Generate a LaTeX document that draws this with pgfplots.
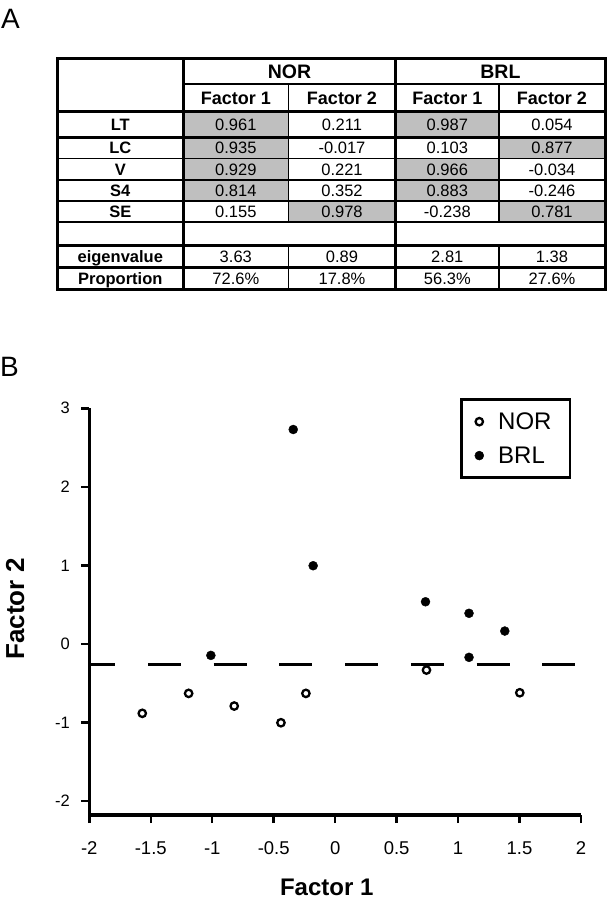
\documentclass[border=0pt]{standalone}
\usepackage{fontspec}
\setmainfont{Liberation Sans}
\usepackage{pgfplots}
\pgfplotsset{compat=1.18}

\newcommand{\fsz}[1]{\fontsize{#1bp}{#1bp}\selectfont}

\begin{document}
\begin{tikzpicture}
\useasboundingbox (0,0) rectangle (608bp,-900bp);

% panel letters
\node[anchor=base west, inner sep=0pt, font=\fsz{28}] at (1bp,-28.3bp) {A};
\node[anchor=base west, inner sep=0pt, font=\fsz{28}] at (0bp,-376.7bp) {B};

% ---- table (panel A), coordinates in px, y down
\begin{scope}[x=1bp,y=-1bp]
\fill[black!25] (183.3,111.7) rectangle (288.3,201);
\fill[black!25] (288.3,201) rectangle (395.7,222);
\fill[black!25] (395.7,111.7) rectangle (499,137.5);
\fill[black!25] (395.7,158.5) rectangle (499,201);
\fill[black!25] (499,137.5) rectangle (605,158.5);
\fill[black!25] (499,201) rectangle (605,222);

\draw[line width=3bp] (57.3,58.3) rectangle (605,289.3);
\draw[line width=2.5bp] (183.3,58.3) -- (183.3,289.3);
\draw[line width=2.5bp] (395.7,58.3) -- (395.7,289.3);
\draw[line width=1.5bp] (288.3,84) -- (288.3,222) (288.3,245.3) -- (288.3,289.3);
\draw[line width=1.5bp] (499,84) -- (499,222) (499,245.3) -- (499,289.3);
\draw[line width=1.5bp] (183.3,84) -- (605,84);
\draw[line width=2.5bp] (57.3,111.7) -- (605,111.7);
\draw[line width=2.2bp] (57.3,137.5) -- (605,137.5);
\draw[line width=1.5bp] (57.3,158.5) -- (605,158.5);
\draw[line width=1.5bp] (57.3,180) -- (605,180);
\draw[line width=1.8bp] (57.3,201) -- (605,201);
\draw[line width=2.8bp] (57.3,222) -- (605,222);
\draw[line width=2.8bp] (57.3,245.3) -- (605,245.3);
\draw[line width=2.2bp] (57.3,267.5) -- (605,267.5);

\node[anchor=base, inner sep=0pt, font=\bfseries\fsz{19.5}] at (289.5,78) {NOR};
\node[anchor=base, inner sep=0pt, font=\bfseries\fsz{19.5}] at (500.4,78) {BRL};
\foreach \xc/\t in {235.8/Factor 1, 342/Factor 2, 447.3/Factor 1, 552/Factor 2}
  \node[anchor=base, inner sep=0pt, font=\bfseries\fsz{18}] at (\xc,104.3) {\t};

\foreach \yc/\lab/\a/\b/\c/\d in {
  124.6/LT/0.961/0.211/0.987/0.054,
  148/LC/0.935/-0.017/0.103/0.877,
  169.2/V/0.929/0.221/0.966/-0.034,
  190.5/S4/0.814/0.352/0.883/-0.246,
  211.5/SE/0.155/0.978/-0.238/0.781,
  256.4/eigenvalue/3.63/0.89/2.81/1.38,
  278.4/Proportion/72.6\%/17.8\%/56.3\%/27.6\%}
{
  \node[anchor=base, inner sep=0pt, font=\bfseries\fsz{16.5}] at (120.3,\yc+5.9) {\lab};
  \node[anchor=base, inner sep=0pt, font=\fsz{16.5}] at (235.8,\yc+5.9) {\a};
  \node[anchor=base, inner sep=0pt, font=\fsz{16.5}] at (342,\yc+5.9) {\b};
  \node[anchor=base, inner sep=0pt, font=\fsz{16.5}] at (447.3,\yc+5.9) {\c};
  \node[anchor=base, inner sep=0pt, font=\fsz{16.5}] at (552,\yc+5.9) {\d};
}
\end{scope}

% ---- scatter (panel B)
\begin{axis}[
  at={(89.3bp,-815bp)}, anchor=south west,
  scale only axis, width=491.7bp, height=406.7bp,
  xmin=-2, xmax=2, ymin=-2.18, ymax=3,
  axis x line=bottom, axis y line=left,
  axis line style={-, line width=3.5bp},
  tick align=outside, major tick length=8bp,
  tick style={line width=2.5bp, black},
  xtick={-2,-1.5,-1,-0.5,0,0.5,1,1.5,2},
  xticklabels={-2,-1.5,-1,-0.5,0,0.5,1,1.5,2},
  ytick={-2,-1,0,1,2,3},
  yticklabels={-2,-1,0,1,2,3},
  x tick label style={font=\fsz{18.5}},
  y tick label style={font=\fsz{16.5}},
  xticklabel shift=15bp, yticklabel shift=8bp,
  xlabel={Factor 1}, ylabel={Factor 2},
  every axis x label/.style={at={(rel axis cs:0.4828,-0.1775)}, anchor=center, font=\bfseries\fsz{24}},
  every axis y label/.style={at={(rel axis cs:-0.151,0.5065)}, anchor=center, rotate=90, font=\bfseries\fsz{26}},
  legend style={at={(0.754,1.0246)}, anchor=north west, draw=black, line width=2.5bp,
    font=\fsz{24}, inner xsep=13.5bp, inner ysep=5.1bp, column sep=9.4bp,
    nodes={inner xsep=5bp, inner ysep=7.9bp}},
  legend cell align=left,
  legend image code/.code={\draw[#1] plot coordinates {(0bp,0bp)};},
  clip=false,
]
\addplot[forget plot, black, line width=3bp, dash pattern=on 33bp off 32.7bp, dash phase=7bp]
  coordinates {(-2,-0.257) (2,-0.257)};

\addplot[only marks, mark=o, mark size=3.7bp, mark options={line width=2.3bp, draw=black, fill=white}]
  coordinates {(-1.569,-0.885) (-1.192,-0.631) (-0.821,-0.792) (-0.441,-1.005)
               (-0.238,-0.631) (0.743,-0.334) (1.502,-0.623)};
\addlegendentry{NOR}

\addplot[only marks, mark=*, mark size=4.5bp, mark options={line width=0.4bp, draw=black, fill=black}]
  coordinates {(-1.011,-0.147) (-0.341,2.73) (-0.179,0.995) (0.735,0.536)
               (1.089,0.389) (1.380,0.163) (1.089,-0.172)};
\addlegendentry{BRL}
\end{axis}
\end{tikzpicture}
\end{document}
